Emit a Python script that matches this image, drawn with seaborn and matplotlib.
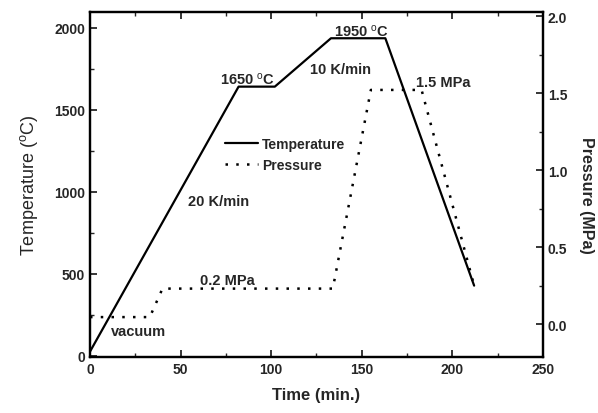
import matplotlib
matplotlib.use("Agg")
import matplotlib.pyplot as plt
import seaborn as sns
from matplotlib.ticker import MultipleLocator
from matplotlib.lines import Line2D

# Data
temp_time = [0, 82, 102, 133, 163, 212]
temperature = [25, 1640, 1640, 1935, 1935, 427]
press_time = [0, 33, 40, 134, 155, 183, 212]
pressure = [0.045, 0.045, 0.23, 0.23, 1.52, 1.52, 0.25]

sns.set_style("ticks")
plt.rcParams['font.family'] = ['Liberation Sans', 'DejaVu Sans']
plt.rcParams['mathtext.fontset'] = 'custom'
plt.rcParams['mathtext.rm'] = 'Liberation Sans'
plt.rcParams['mathtext.it'] = 'Liberation Sans'

fig = plt.figure(figsize=(5.98, 4.14), dpi=100)
ax = fig.add_axes([0.1505, 0.1353, 0.7575, 0.8333])
ax2 = ax.twinx()

dot_style = (0, (1, 3.3))
sns.lineplot(x=temp_time, y=temperature, ax=ax, color='black', linewidth=1.6, sort=False)
sns.lineplot(x=press_time, y=pressure, ax=ax2, color='black', linewidth=1.8,
             linestyle=dot_style, sort=False)

ax.set_xlim(0, 250)
ax.set_ylim(-8, 2095)
ax2.set_ylim(-0.214, 2.026)

ax.xaxis.set_major_locator(MultipleLocator(50))
ax.xaxis.set_minor_locator(MultipleLocator(25))
ax.yaxis.set_major_locator(MultipleLocator(500))
ax.yaxis.set_minor_locator(MultipleLocator(250))
ax2.yaxis.set_major_locator(MultipleLocator(0.5))
ax2.yaxis.set_minor_locator(MultipleLocator(0.25))
ax2.yaxis.set_major_formatter(plt.FormatStrFormatter('%.1f'))

for a in (ax, ax2):
    for s in a.spines.values():
        s.set_linewidth(1.6)
        s.set_color('black')

ax.tick_params(axis='both', which='major', direction='in', length=5, width=1.3,
               labelsize=10, top=True, right=False)
ax.tick_params(axis='both', which='minor', direction='in', length=3, width=1.0,
               top=True, right=False)
ax2.tick_params(axis='y', which='major', direction='in', length=5, width=1.3, labelsize=10)
ax2.tick_params(axis='y', which='minor', direction='in', length=3, width=1.0)
for lab in ax.get_xticklabels() + ax.get_yticklabels() + ax2.get_yticklabels():
    lab.set_fontweight('bold')

ax.set_xlabel('Time (min.)', fontsize=12, fontweight='bold', labelpad=8)
ax.set_ylabel('Temperature ($^{o}$C)', fontsize=13, labelpad=10)
ax2.set_ylabel('Pressure (MPa)', fontsize=11.5, fontweight='bold', rotation=-90)
ax2.yaxis.set_label_coords(1.112, 0.47)

tk = dict(fontsize=10.5, fontweight='bold', ha='center', va='center')
ax.text(87, 1690, '1650 $^{o}$C', **tk)
ax.text(138, 1746, '10 K/min', **tk)
ax.text(150, 1980, '1950 $^{o}$C', **tk)
ax.text(195, 1667, '1.5 MPa', **tk)
ax.text(71, 942, '20 K/min', **tk)
ax.text(76, 461, '0.2 MPa', **tk)
ax.text(27, 150, 'vacuum', **tk)

handles = [Line2D([], [], color='black', linewidth=1.6),
           Line2D([], [], color='black', linewidth=1.8, linestyle=dot_style)]
ax.legend(handles, ['Temperature', 'Pressure'], loc='upper left',
          bbox_to_anchor=(0.27, 0.675), frameon=False, handlelength=2.4,
          handletextpad=0.3, labelspacing=0.55,
          prop={'size': 10, 'weight': 'bold'})

fig.savefig('out.png', dpi=100)
